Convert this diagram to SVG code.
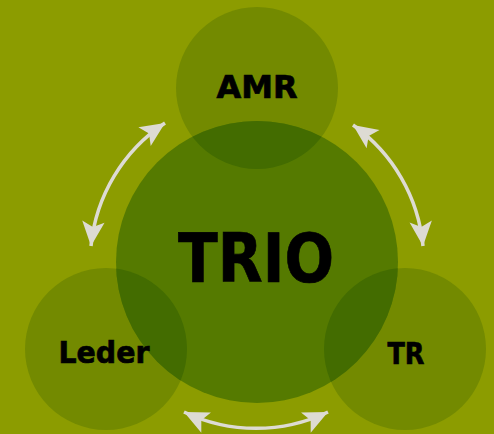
<svg xmlns="http://www.w3.org/2000/svg" width="494" height="434" viewBox="0 0 494 434">
<style>
.sm{fill:#738a00}
.big{fill:#557a00}
.ov{fill:#436c00}
.lbl{font-family:'DejaVu Sans','Liberation Sans',sans-serif;font-weight:bold;fill:#000;stroke:#000;stroke-width:0.7;text-anchor:middle}
.arr{fill:none;stroke:#dddbd3;stroke-width:3.5;marker-start:url(#ah);marker-end:url(#ah)}
</style>
<defs>
<marker id="ah" markerUnits="userSpaceOnUse" markerWidth="32" markerHeight="32" viewBox="-26 -13 30 26" refX="0" refY="0" orient="auto-start-reverse">
<path d="M0,0 L-23,-10.5 L-18,0 L-23,10.5 Z" fill="#dddbd3"/>
</marker>
<clipPath id="bigclip"><circle cx="257" cy="262" r="141"/></clipPath>
</defs>
<rect width="494" height="434" fill="#8c9c00"/>
<g id="amr"><circle class="sm" cx="257" cy="88" r="81"/></g>
<g id="leder"><circle class="sm" cx="106" cy="349" r="81"/></g>
<g id="tr"><circle class="sm" cx="405" cy="349" r="81"/></g>
<g id="trio">
<circle class="big" cx="257" cy="262" r="141"/>
<g clip-path="url(#bigclip)">
<circle class="ov" cx="257" cy="88" r="81"/>
<circle class="ov" cx="106" cy="349" r="81"/>
<circle class="ov" cx="405" cy="349" r="81"/>
</g>
<text class="lbl" x="256" y="282" font-size="68" textLength="156" lengthAdjust="spacingAndGlyphs">TRIO</text>
</g>
<g id="labels">
<text class="lbl" x="257" y="97.5" font-size="32" textLength="81" lengthAdjust="spacingAndGlyphs">AMR</text>
<text class="lbl" x="104" y="363" font-size="31" textLength="91" lengthAdjust="spacingAndGlyphs">Leder</text>
<text class="lbl" x="406" y="364" font-size="30" textLength="37" lengthAdjust="spacingAndGlyphs">TR</text>
</g>
<g id="connectors">
<path class="arr" d="M165,123 A167,167 0 0 0 91,246"/>
<path class="arr" d="M353,125 A167,167 0 0 1 423,246"/>
<path class="arr" d="M184,412 A167,167 0 0 0 328,412"/>
</g>
</svg>
